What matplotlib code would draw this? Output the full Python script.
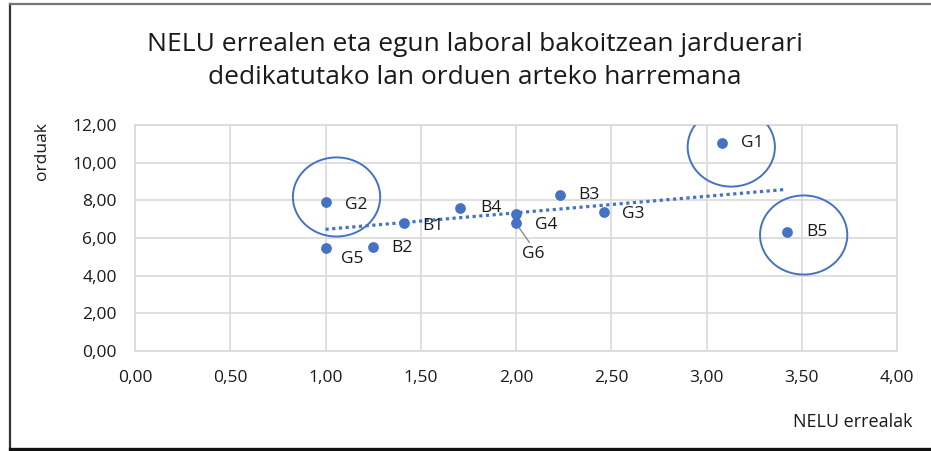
import numpy as np
import matplotlib
matplotlib.use('Agg')
import matplotlib.pyplot as plt
from matplotlib.patches import Ellipse
from matplotlib.lines import Line2D

plt.rcParams['font.family'] = ['Open Sans', 'DejaVu Sans']

# data
labels = ['G2', 'B1', 'B4', 'G4', 'G6', 'B3', 'G3', 'G5', 'B2', 'G1', 'B5']
nelu = [1.00, 1.41, 1.705, 2.00, 2.00, 2.233, 2.46, 1.00, 1.25, 3.08, 3.42]
orduak = [7.90, 6.81, 7.61, 7.26, 6.78, 8.28, 7.37, 5.45, 5.54, 11.03, 6.30]
# label offsets in pixels (dx, dy)
offsets = {'G2': (19, -3), 'B1': (19, -3), 'B4': (20, 0), 'G4': (19, -11),
           'G6': (6, -31), 'B3': (18, 0), 'G3': (18, -2), 'G5': (15, -11),
           'B2': (18, -1), 'G1': (19, 0), 'B5': (20, 0)}
# highlighted groups: centre x, centre y, width, height
circles = [(1.058, 8.18, 0.458, 4.2), (3.13, 10.83, 0.458, 4.2), (3.51, 6.16, 0.458, 4.2)]

blue = '#4472C4'
grid_c = '#d9d9d9'
txt_c = '#1a1a1a'

fig = plt.figure(figsize=(9.31, 4.51), dpi=100)
ax = fig.add_axes([0.145, 0.2217, 0.8185, 0.5011])

ax.scatter(nelu, orduak, s=60, color=blue, zorder=3, linewidths=0)

# linear trendline
k, b = np.polyfit(nelu, orduak, 1)
xs = np.array([min(nelu), max(nelu)])
ax.plot(xs, k * xs + b, linestyle=(0, (1, 1.1)), color=blue, lw=2.3, zorder=2)

for lab, x, y in zip(labels, nelu, orduak):
    dx, dy = offsets[lab]
    if lab == 'G6':
        ax.annotate(lab, (x, y), xytext=(dx, dy), textcoords='offset pixels',
                    ha='left', va='center', fontsize=12.5, color=txt_c,
                    arrowprops=dict(arrowstyle='-', color='#8c8c8c', lw=1,
                                    relpos=(0.45, 1.0), shrinkA=1, shrinkB=4))
    else:
        ax.annotate(lab, (x, y), xytext=(dx, dy), textcoords='offset pixels',
                    ha='left', va='center', fontsize=12.5, color=txt_c)

for cx, cy, w, h in circles:
    ax.add_patch(Ellipse((cx, cy), w, h, fill=False, edgecolor=blue, lw=1.4, zorder=4))

ax.set_xlim(0, 4)
ax.set_ylim(0, 12)
ax.set_xticks(np.arange(0, 4.01, 0.5))
ax.set_yticks(np.arange(0, 12.01, 2))
ax.set_xticklabels([f'{v:.2f}'.replace('.', ',') for v in np.arange(0, 4.01, 0.5)])
ax.set_yticklabels([f'{v:.2f}'.replace('.', ',') for v in np.arange(0, 12.01, 2)])
ax.tick_params(length=0, labelsize=12.5, colors=txt_c)
ax.tick_params(axis='x', pad=14)
ax.tick_params(axis='y', pad=13)
ax.grid(True, color=grid_c, lw=1.2)
ax.set_axisbelow(True)
for s in ax.spines.values():
    s.set_color(grid_c)
    s.set_linewidth(1.2)

fig.text(0.51, 0.865, 'NELU errealen eta egun laboral bakoitzean jarduerari\ndedikatutako lan orduen arteko harremana',
         ha='center', va='center', fontsize=19, color=txt_c, linespacing=1.45)
fig.text(0.045, 0.665, 'orduak', rotation=90, ha='center', va='center', fontsize=12.5, color=txt_c)
fig.text(0.98, 0.065, 'NELU errealak', ha='right', va='center', fontsize=13, color=txt_c)

# outer frame
fig.add_artist(Line2D([0.0107, 0.0107], [0.004, 0.991], color='#333333', lw=1.6))
fig.add_artist(Line2D([0.0107, 1.0], [0.991, 0.991], color='#777777', lw=1.6))
fig.add_artist(Line2D([0.0107, 1.0], [0.004, 0.004], color='#111111', lw=2.4))

fig.savefig('out.png', dpi=100)
